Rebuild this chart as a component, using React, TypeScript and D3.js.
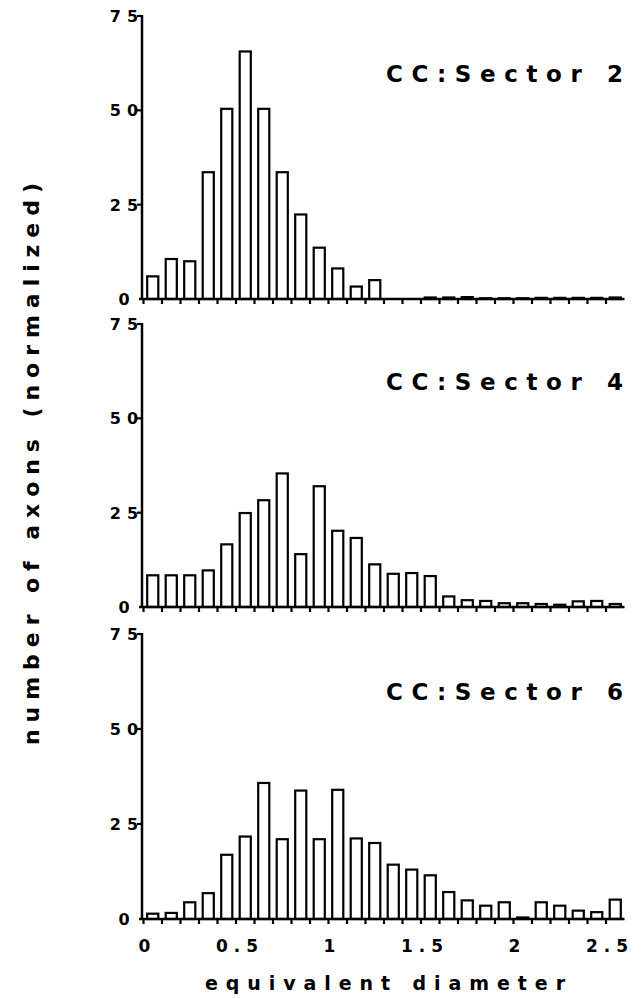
import { useEffect, useRef } from 'react'
import * as d3 from 'd3'

// bin starts (equivalent diameter), 0.1 wide
const binStarts = [
  0, 0.1, 0.2, 0.3, 0.4, 0.5, 0.6, 0.7, 0.8, 0.9, 1.0, 1.1, 1.2,
  1.3, 1.4, 1.5, 1.6, 1.7, 1.8, 1.9, 2.0, 2.1, 2.2, 2.3, 2.4, 2.5,
]

const sector2 = [
  6, 10.6, 10, 33.6, 50.4, 65.6, 50.4, 33.6, 22.4, 13.6, 8.1, 3.3, 5,
  0, 0, 0.4, 0.4, 0.5, 0.2, 0.2, 0.2, 0.3, 0.3, 0.3, 0.3, 0.4,
]
const sector4 = [
  8.4, 8.4, 8.4, 9.7, 16.6, 24.9, 28.3, 35.4, 14.0, 32.0, 20.2, 18.3, 11.3,
  8.8, 9.0, 8.2, 2.8, 1.8, 1.6, 1.0, 1.0, 0.8, 0.6, 1.5, 1.6, 0.8,
]
const sector6 = [
  1.4, 1.6, 4.4, 6.8, 16.9, 21.7, 35.8, 21.0, 33.8, 21.0, 34.0, 21.2, 20.0,
  14.3, 13.0, 11.5, 7.1, 4.9, 3.5, 4.4, 0.4, 4.4, 3.5, 2.2, 1.8, 5.1,
]

const panelTitles = ['CC:Sector 2', 'CC:Sector 4', 'CC:Sector 6']
const panelSeries = [sector2, sector4, sector6]

const yTicks = [0, 25, 50, 75]
const xTicks = [0, 0.5, 1, 1.5, 2, 2.5]
const xTickLabels = ['0', '0.5', '1', '1.5', '2', '2.5']

const W = 641
const H = 998
const FONT = '"DejaVu Sans", Arial, Helvetica, sans-serif'

function App() {
  const svgRef = useRef<SVGSVGElement | null>(null)

  useEffect(() => {
    const svg = d3.select(svgRef.current)
    svg.selectAll('*').remove()

    const axisX = 142
    const x = d3.scaleLinear().domain([0, 2.6]).range([143.5, 624.5])
    const binW = 0.1
    const barPad = 0.02

    // panel vertical extents: [y at 75, y at 0]
    const panels = [
      [16, 299],
      [324, 607],
      [634, 919],
    ]

    panels.forEach(([top, base], p) => {
      const y = d3.scaleLinear().domain([0, 75]).range([base, top])
      const g = svg.append('g')
      const values = panelSeries[p]

      // bars
      g.selectAll('rect.bar')
        .data(values)
        .enter()
        .append('rect')
        .attr('class', 'bar')
        .attr('x', (_, i) => x(binStarts[i] + barPad))
        .attr('width', x(binW - 2 * barPad) - x(0))
        .attr('y', (d) => y(d))
        .attr('height', (d) => y(0) - y(d))
        .attr('fill', '#fff')
        .attr('stroke', '#000')
        .attr('stroke-width', 2.2)

      // x axis line + minor ticks
      g.append('line')
        .attr('x1', axisX - 3)
        .attr('x2', x(2.6))
        .attr('y1', y(0))
        .attr('y2', y(0))
        .attr('stroke', '#000')
        .attr('stroke-width', 2.5)

      g.selectAll('line.xt')
        .data(binStarts)
        .enter()
        .append('line')
        .attr('x1', (d) => x(d))
        .attr('x2', (d) => x(d))
        .attr('y1', y(0))
        .attr('y2', y(0) + 5)
        .attr('stroke', '#000')
        .attr('stroke-width', 2.2)

      // y axis line + ticks
      g.append('line')
        .attr('x1', axisX)
        .attr('x2', axisX)
        .attr('y1', y(75) - 1)
        .attr('y2', y(0) + 1)
        .attr('stroke', '#000')
        .attr('stroke-width', 2.5)

      g.selectAll('line.yt')
        .data(yTicks.slice(1))
        .enter()
        .append('line')
        .attr('x1', axisX - 5)
        .attr('x2', axisX)
        .attr('y1', (d) => y(d))
        .attr('y2', (d) => y(d))
        .attr('stroke', '#000')
        .attr('stroke-width', 2.2)

      g.selectAll('text.yl')
        .data(yTicks)
        .enter()
        .append('text')
        .attr('x', 127)
        .attr('y', (d) => y(d) + 6)
        .attr('text-anchor', 'middle')
        .attr('font-family', FONT)
        .attr('font-weight', 'bold')
        .attr('font-size', 16)
        .attr('letter-spacing', 6)
        .text((d) => String(d))

      g.append('text')
        .attr('x', 386)
        .attr('y', y(75) + 66)
        .attr('textLength', 237)
        .attr('lengthAdjust', 'spacing')
        .attr('font-family', FONT)
        .attr('font-weight', 'bold')
        .attr('font-size', 23)
        .text(panelTitles[p])
    })

    // x tick labels under the last panel
    svg
      .selectAll('text.xl')
      .data(xTicks)
      .enter()
      .append('text')
      .attr('x', (d) => x(d) + 4)
      .attr('y', 952)
      .attr('text-anchor', 'middle')
      .attr('font-family', FONT)
      .attr('font-weight', 'bold')
      .attr('font-size', 17)
      .attr('letter-spacing', 6)
      .text((_, i) => xTickLabels[i])

    svg
      .append('text')
      .attr('x', 205)
      .attr('y', 990)
      .attr('textLength', 360)
      .attr('lengthAdjust', 'spacing')
      .attr('font-family', FONT)
      .attr('font-weight', 'bold')
      .attr('font-size', 19)
      .text('equivalent diameter')

    svg
      .append('text')
      .attr('transform', 'translate(39, 745) rotate(-90)')
      .attr('textLength', 562)
      .attr('lengthAdjust', 'spacing')
      .attr('font-family', FONT)
      .attr('font-weight', 'bold')
      .attr('font-size', 22)
      .text('number of axons (normalized)')
  }, [])

  return (
    <svg
      ref={svgRef}
      width={W}
      height={H}
      viewBox={`0 0 ${W} ${H}`}
      style={{ position: 'absolute', left: 0, top: 0, background: '#fff' }}
    />
  )
}

export default App
